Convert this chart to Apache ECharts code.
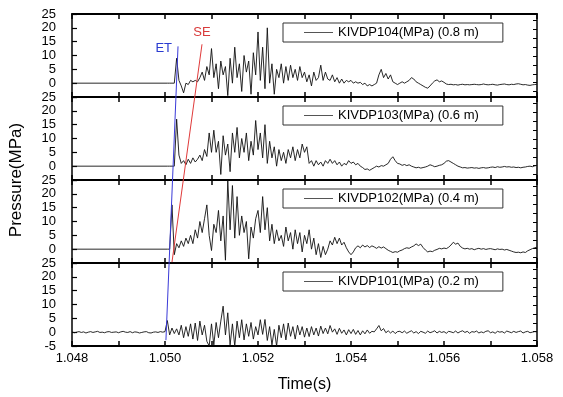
<!DOCTYPE html>
<html><head><meta charset="utf-8">
<script src="https://cdn.jsdelivr.net/npm/echarts@6/dist/echarts.min.js"></script>
<style>html,body{margin:0;padding:0;background:#fff}#c{width:563px;height:397px}</style>
</head><body><div id="c"></div>
<script>
// ---- data ----
const xTicks = [1.048, 1.050, 1.052, 1.054, 1.056, 1.058];
const yTicks = [-5, 0, 5, 10, 15, 20, 25];
const seriesNames = ['KIVDP104(MPa) (0.8 m)', 'KIVDP103(MPa) (0.6 m)', 'KIVDP102(MPa) (0.4 m)', 'KIVDP101(MPa) (0.2 m)'];
const T0 = 1.050, DT = 0.00005, PRE_T0 = 1.048;
const p104 = [0,0,0,0,0, 9,1,-1,-3.5,0,-0.5,1,0.5,
  1,0.5,2,4,1,6,3,12.5,2,7,-2,8,3,6,-4.5,9,0,13,2,7,-3,10,4,8,-4,11,3,18.5,1,13,-2,20,0,7,-4,5,2,7,0,6,1,6.5,2,5,1,6,2,4,0.5,3,-1,4,1,2,6.5,1,4,1.5,
  1,3,0.5,2,0,1.5,0,1,0.5,1, 0,0.5,0,0.3,-0.5,0,-1,-0.5,-1,-0.5, 0,3,5,2,3.5,1.5,3,0.5,0,-0.5, 0,0.5,0,0.5,1,2,1.5,0.5,0,-0.5, -1,-1.5,-1.8,-1,0,0.8,1.2,0.5,0.8,0.3,
  -0.3,-0.5,-0.4,-0.6,-0.5,-0.7,-0.5,-0.4,-0.6,-0.5, -0.6,-0.5,-0.4,-0.5,-0.6,-0.5,-0.3,-0.5,-0.6,-0.5, -0.4,-0.6,-0.7,-0.5,-0.4,-0.3,-0.5,-0.6,-0.4,-0.5, -0.3,-0.2,-0.4,-0.6,-0.5,-0.7,-0.8,-0.6,-0.5,-0.4];
const p103 = [0,0,0,0,0, 17,4,1,2,0.5,2.5,1,3,1.5,2.5,4,2,6,3.5,12,5,
  13,5,9,-3,11,4,8,-2,12,5,14,3,10,5,12,2,9,4,16.5,6,12,3,15,1,9,3,7,0,6,2,5,1,6,3,7,2,
  6,3,8,5,7,1,2,0,2,0.5,1.5,0,2,1,2.5,1,2,0.5,1.5,0,1,0.5,2,1,1.5,0.5,1,0,-0.5,-1.2,-1,-1.5,-1,
  -0.5,0,-0.3,0.2,0,0.5,1,2.5,3.4,2, 1,0.8,0.3,0.6,0.2,0.5,0,-0.3,-0.6,-0.4, -0.7,-0.5,-0.3,0,0.5,0.2,-0.2,0,0.3,0.5, 1,1.8,2,1.5,1,0.5,0,-0.3,-0.6,-0.5,
  -0.7,-0.6,-0.5,-0.7,-0.6,-0.8,-0.6,-0.5,-0.7,-0.6, -0.4,-0.3,-0.5,-0.2,-0.4,-0.3,-0.1,-0.3,-0.2,-0.4, -0.3,-0.5,-0.4,-0.6,-0.4,-0.3,-0.1,0,-0.2,0.1, 0.3];
const p102 = [0,0,0,16,-2,2,0.5,3,1,
  4,2,5,2,7,4,10,6,11,16,5,-0.5,9,6,14,3,12,-4,24.8,7,23,4,19,5,12,6,10,-3.5,8,4,11,14,6,19,7,15,3,9,2,7,3,5,1,8,3,6,0,7,2,6,-1,5,2,7,0,4,-2,2,-3,1,-2,0,
  3,1.5,4.3,2,4,1.5,2.5,0.5,-1,-2, -1,0.5,1.2,0.5,1.5,0.8,1.3,0.6,1.2,0.8, 0.3,0.9,0.4,0.8,0.2,-0.4,-0.8,-1.2,-0.9,-1.1, -0.6,-0.3,0.2,0.5,0.3,0.8,1.2,1.9,1.3,1.8,
  0.6,-0.3,-1,-0.7,-0.9,-0.4,-0.1,0.3,0.1,0.4, 0.2,0.7,1.5,2.5,1.8,2.2,1,0.4,0.1,0.3, 0,0.2,-0.2,0.1,0.3,0,0.2,-0.1,0.1,0.2, 0,-0.2,0.1,-0.1,0,-0.3,-0.1,-0.4,-0.7,-1,
  -1.2,-1.1,-1.3,-1,-1.2,-0.6,-0.2,0.2,0.5,0.7];
const p101pre = [0.1,-0.2,0,0.2,-0.1,0.1,-0.3,0,0.2,-0.1, 0.1,0.3,-0.1,0,-0.2,0.1,0.2,-0.1,0,0.1,
  -0.2,0.1,0.3,0,-0.1,0.2,-0.2,0.1,0,-0.3, -0.1,0.1,0.2,-0.2,-0.3,0,0.1,-0.1,0.2,0];
const p101 = [0.2,4.2,-1,1.5,-0.5,1.2,-1,2.5,-2,2, -1.5,3,-2.5,3.3,-3,4,-1,2.5,-3.3,-5, 3,-4.6,3.5,-2,4,9.4,-1,7,-4.6,3,
  -5,4,-2,4.5,-2.8,3,-1.5,3.5,-2.5,2, -1,4.5,-0.8,4.6,-3,2,-4.6,1,-5,2.5, -2,3,-2.8,3.3,-1.5,2,-2.5,2.5,-1,2,
  -1.8,1.5,-1.6,2,-1,1.5,-1.4,2.2,-0.5,1.5, -0.6,2.4,0,1.2,-0.8,1.4,-0.4,0.8,-1,0.9, -0.5,1,-0.8,0.6,-1,0.5,-0.6,0.8,-0.4,0.3,
  0.1,1.2,2.4,0.5,1.3,-0.2,0.5,-0.3,0.4,-0.5,0.2,
  0.3,-0.2,0.4,-0.4,0.1,0.5,-0.3,0.2,-0.5,0.3, 0,-0.4,0.4,-0.2,0.1,0.5,-0.3,0.3,-0.1,0.2, -0.4,0.3,0.1,-0.2,0.4,-0.3,0.2,0.5,-0.1,0.3,
  -0.4,0.2,0,0.4,-0.3,0.1,-0.2,0.3,0.5,-0.2, 0.1,-0.4,0.3,0,0.2,-0.3,0.4,0.1,-0.2,0.3, -0.1,0.2,0.4,-0.3,0.1,0.3,-0.2,0,0.2,0.1];
// ET / SE annotation lines (time, stacked-panel position 0..4 from bottom)
const etLine = [[1.05028, 3.61], [1.05002, 0.07]];
const seLine = [[1.050796, 3.635], [1.05015, 1.01]];

// ---- build ----
function pairs(arr, t0) { return arr.map((v, k) => [t0 + k * DT, v]); }
const panelData = [
  [[PRE_T0, 0]].concat(pairs(p104, T0)),
  [[PRE_T0, 0]].concat(pairs(p103, T0)),
  [[PRE_T0, 0]].concat(pairs(p102, T0)),
  pairs(p101pre, PRE_T0).concat(pairs(p101, T0))
];
const FONT = 'Liberation Sans, Arial, sans-serif';
const L = 72, W = 465, TOP = 14, H = 83;
const grids = [], xAxes = [], yAxes = [], series = [], legends = [];
for (let i = 0; i < 4; i++) {
  const top = TOP + i * H;
  grids.push({left: L, top: top, width: W, height: H});
  const isLast = i === 3;
  xAxes.push({
    type: 'value', gridIndex: i, min: xTicks[0], max: xTicks[xTicks.length - 1], interval: 0.001,
    position: 'bottom',
    axisLine: {show: true, onZero: false, lineStyle: {color: '#000', width: 2}},
    axisTick: {show: true, inside: true, length: 5, lineStyle: {color: '#000', width: 1.5}},
    splitLine: {show: false},
    axisLabel: {show: isLast, margin: 6, color: '#000', fontSize: 13, fontFamily: FONT,
      formatter: v => { const r = Math.round(v * 1000); return xTicks.some(t => Math.round(t * 1000) === r) ? v.toFixed(3) : ''; },
      showMinLabel: true, showMaxLabel: true},
    name: isLast ? 'Time(s)' : '', nameLocation: 'middle', nameGap: 31,
    nameTextStyle: {color: '#000', fontSize: 16, fontFamily: FONT}
  });
  xAxes.push({
    type: 'value', gridIndex: i, min: xTicks[0], max: xTicks[xTicks.length - 1], interval: 0.001,
    position: 'top',
    axisLine: {show: true, onZero: false, lineStyle: {color: '#000', width: 2}},
    axisTick: {show: true, inside: true, length: 5, lineStyle: {color: '#000', width: 1.5}},
    splitLine: {show: false}, axisLabel: {show: false}
  });
  yAxes.push({
    type: 'value', gridIndex: i, min: yTicks[0], max: yTicks[yTicks.length - 1], interval: 5,
    position: 'left',
    axisLine: {show: true, onZero: false, lineStyle: {color: '#000', width: 1.5}},
    axisTick: {show: true, inside: true, length: 5, lineStyle: {color: '#000', width: 1.2}},
    splitLine: {show: false},
    axisLabel: {show: true, margin: 16, color: '#000', fontSize: 13, fontFamily: FONT,
      showMinLabel: true, showMaxLabel: true,
      formatter: v => (v === -5 && !isLast) ? '' : String(v)}
  });
  yAxes.push({
    type: 'value', gridIndex: i, min: -0.6, max: 8.7,
    position: 'right',
    axisLine: {show: true, onZero: false, lineStyle: {color: '#000', width: 1.5}},
    axisTick: {show: true, inside: true, length: 4, customValues: [0,1,2,3,4,5,6,7,8], lineStyle: {color: '#000', width: 1}},
    splitLine: {show: false}, axisLabel: {show: false}
  });
  series.push({
    name: seriesNames[i], type: 'line', xAxisIndex: 2 * i, yAxisIndex: 2 * i,
    data: panelData[i], symbol: 'none', showSymbol: false, clip: true,
    lineStyle: {color: '#111', width: 0.9}, itemStyle: {color: '#111'}
  });
  legends.push({
    data: [seriesNames[i]], left: 283, top: top + 9, orient: 'horizontal',
    padding: [3, 24, 3, 21], itemWidth: 29, itemHeight: 1, itemGap: 5,
    icon: 'rect',
    borderColor: '#333', borderWidth: 1, backgroundColor: '#fff',
    itemStyle: {color: '#555'},
    textStyle: {color: '#000', fontSize: 13, fontFamily: FONT, lineHeight: 13, padding: [0, 0, 0, 0]}
  });
}
// overlay grid for ET/SE
grids.push({left: L, top: TOP, width: W, height: 4 * H});
xAxes.push({type: 'value', gridIndex: 4, min: xTicks[0], max: xTicks[xTicks.length - 1], show: false});
yAxes.push({type: 'value', gridIndex: 4, min: 0, max: 4,
  axisLine: {show: false}, axisTick: {show: false}, axisLabel: {show: false}, splitLine: {show: false},
  name: 'Pressure(MPa)', nameLocation: 'middle', nameGap: 47,
  nameTextStyle: {color: '#000', fontSize: 17, fontFamily: FONT}});
series.push({
  type: 'line', xAxisIndex: 8, yAxisIndex: 8, symbol: 'circle', symbolSize: 0.01, showSymbol: true,
  lineStyle: {color: '#3a3ad8', width: 1}, itemStyle: {color: '#3a3ad8'},
  data: [{value: etLine[0], label: {show: true, formatter: 'ET', position: 'left', distance: 6, offset: [0, 2],
    color: '#2a3bd0', fontSize: 13, fontFamily: FONT}}, {value: etLine[1]}],
  z: 5
});
series.push({
  type: 'line', xAxisIndex: 8, yAxisIndex: 8, symbol: 'circle', symbolSize: 0.01, showSymbol: true,
  lineStyle: {color: '#e03a3a', width: 1}, itemStyle: {color: '#e03a3a'},
  data: [{value: seLine[0], label: {show: true, formatter: 'SE', position: 'top', distance: 5,
    color: '#d83a3a', fontSize: 13, fontFamily: FONT}}, {value: seLine[1]}],
  z: 5
});
const chart = echarts.init(document.getElementById('c'), null, {renderer: 'canvas'});
chart.setOption({
  animation: false, backgroundColor: '#fff',
  grid: grids, xAxis: xAxes, yAxis: yAxes, legend: legends, series: series
});
</script></body></html>
